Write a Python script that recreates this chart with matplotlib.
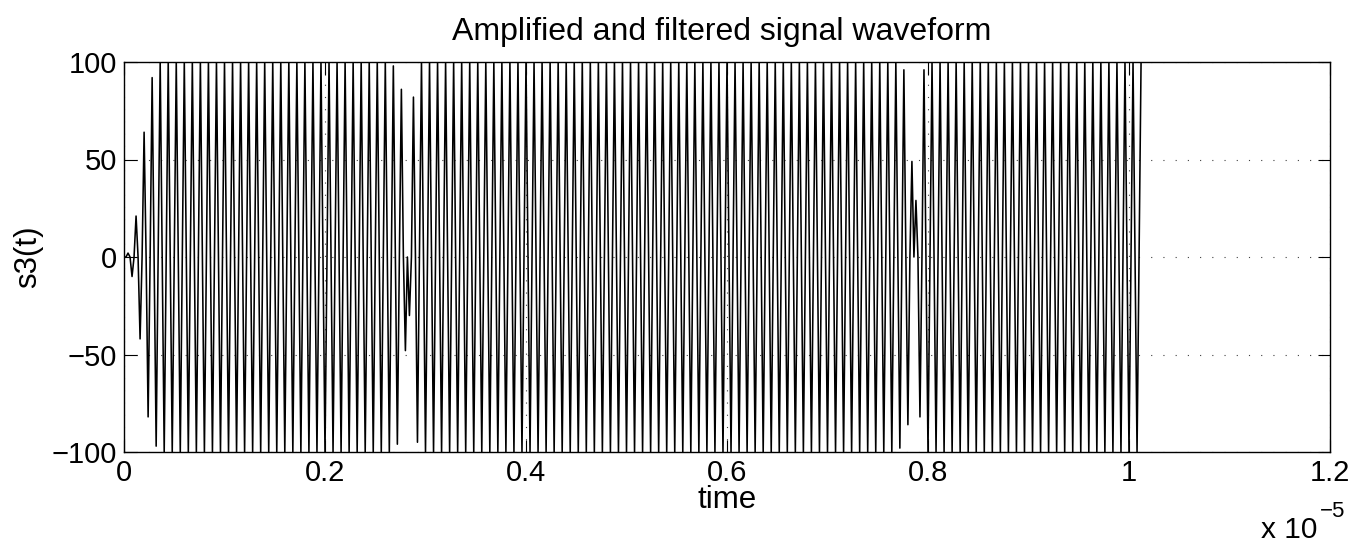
import numpy as np
import matplotlib
matplotlib.use("Agg")
import matplotlib.pyplot as plt
from matplotlib.ticker import FixedLocator, FixedFormatter

plt.rcParams['font.family'] = ['Liberation Sans', 'DejaVu Sans']

# ---- data ----
sample_period = 2.0e-8          # s, one sample every 2e-8 s
# s3(t) samples: carrier peaks alternate with zero crossings
s3 = [
    0, 0, 2, 0, -10, 0, 21, 0, -42, 0, 64, 0, -82, 0, 92, 0,                        # peaks 0-7
    -97, 0, 100, 0, -100, 0, 100, 0, -100, 0, 100, 0, -100, 0, 100, 0,              # 8-15
    -100, 0, 100, 0, -100, 0, 100, 0, -100, 0, 100, 0, -100, 0, 100, 0,             # 16-23
    -100, 0, 100, 0, -100, 0, 100, 0, -100, 0, 100, 0, -100, 0, 100, 0,             # 24-31
    -100, 0, 100, 0, -100, 0, 100, 0, -100, 0, 100, 0, -100, 0, 100, 0,             # 32-39
    -100, 0, 100, 0, -100, 0, 100, 0, -100, 0, 100, 0, -100, 0, 100, 0,             # 40-47
    -100, 0, 100, 0, -100, 0, 100, 0, -100, 0, 100, 0, -100, 0, 100, 0,             # 48-55
    -100, 0, 100, 0, -100, 0, 100, 0, -100, 0, 100, 0, -100, 0, 100, 0,             # 56-63
    -100, 0, 100, 0, -100, 0, 98, 0, -96, 0, 86, 0, -48, 0, -30, 0,                 # 64-71
    82, 0, -95, 0, 100, 0, -100, 0, 100, 0, -100, 0, 100, 0, -100, 0,               # 72-79
    100, 0, -100, 0, 100, 0, -100, 0, 100, 0, -100, 0, 100, 0, -100, 0,             # 80-87
    100, 0, -100, 0, 100, 0, -100, 0, 100, 0, -100, 0, 100, 0, -100, 0,             # 88-95
    100, 0, -100, 0, 100, 0, -100, 0, 100, 0, -100, 0, 100, 0, -100, 0,             # 96-103
    100, 0, -100, 0, 100, 0, -100, 0, 100, 0, -100, 0, 100, 0, -100, 0,             # 104-111
    100, 0, -100, 0, 100, 0, -100, 0, 100, 0, -100, 0, 100, 0, -100, 0,             # 112-119
    100, 0, -100, 0, 100, 0, -100, 0, 100, 0, -100, 0, 100, 0, -100, 0,             # 120-127
    100, 0, -100, 0, 100, 0, -100, 0, 100, 0, -100, 0, 100, 0, -100, 0,             # 128-135
    100, 0, -100, 0, 100, 0, -100, 0, 100, 0, -100, 0, 100, 0, -100, 0,             # 136-143
    100, 0, -100, 0, 100, 0, -100, 0, 100, 0, -100, 0, 100, 0, -100, 0,             # 144-151
    100, 0, -100, 0, 100, 0, -100, 0, 100, 0, -100, 0, 100, 0, -100, 0,             # 152-159
    100, 0, -100, 0, 100, 0, -100, 0, 100, 0, -100, 0, 100, 0, -100, 0,             # 160-167
    100, 0, -100, 0, 100, 0, -100, 0, 100, 0, -100, 0, 100, 0, -100, 0,             # 168-175
    100, 0, -100, 0, 100, 0, -100, 0, 100, 0, -100, 0, 100, 0, -100, 0,             # 176-183
    100, 0, -100, 0, 100, 0, -100, 0, 100, 0, -100, 0, 100, 0, -100, 0,             # 184-191
    100, 0, -98, 0, 96, 0, -86, 0, 49, 0, 29, 0, -82, 0, 96, 0,                     # 192-199
    -100, 0, 100, 0, -100, 0, 100, 0, -100, 0, 100, 0, -100, 0, 100, 0,             # 200-207
    -100, 0, 100, 0, -100, 0, 100, 0, -100, 0, 100, 0, -100, 0, 100, 0,             # 208-215
    -100, 0, 100, 0, -100, 0, 100, 0, -100, 0, 100, 0, -100, 0, 100, 0,             # 216-223
    -100, 0, 100, 0, -100, 0, 100, 0, -100, 0, 100, 0, -100, 0, 100, 0,             # 224-231
    -100, 0, 100, 0, -100, 0, 100, 0, -100, 0, 100, 0, -100, 0, 100, 0,             # 232-239
    -100, 0, 100, 0, -100, 0, 100, 0, -100, 0, 100, 0, -100, 0, 100, 0,             # 240-247
    -100, 0, 100, 0, -100, 0, 100, 0, -100, 0, 100,                                 # 248-253
]

xtick_values = [0, 0.2, 0.4, 0.6, 0.8, 1.0, 1.2]      # in units of 1e-5 s
xtick_labels = ['0', '0.2', '0.4', '0.6', '0.8', '1', '1.2']
x_scale = 1e-5
ytick_values = [-100, -50, 0, 50, 100]
ytick_labels = ['\u2212100', '\u221250', '0', '50', '100']

# ---- figure ----
W, H = 1356, 550
fig = plt.figure(figsize=(W / 100, H / 100), dpi=100)
L, R, T, B = 124, 1330, 62, 452
ax = fig.add_axes([L / W, 1 - B / H, (R - L) / W, (B - T) / H])

t = np.arange(len(s3)) * sample_period
ax.plot(t, s3, color='k', linewidth=1.15, zorder=3)

ax.set_xlim(0, 1.2e-5)
ax.set_ylim(-100, 100)
ax.xaxis.set_major_locator(FixedLocator([v * x_scale for v in xtick_values]))
ax.xaxis.set_major_formatter(FixedFormatter(xtick_labels))
ax.yaxis.set_major_locator(FixedLocator(ytick_values))
ax.yaxis.set_major_formatter(FixedFormatter(ytick_labels))

ax.tick_params(direction='in', length=9, width=0.8, top=True, right=True,
               labelsize=21, colors='k')
ax.tick_params(axis='x', pad=5)
ax.tick_params(axis='y', pad=5)
for sp in ax.spines.values():
    sp.set_linewidth(1.0)
    sp.set_color('k')

ax.grid(True, color='0.25', linestyle=(0, (1, 10)), linewidth=0.8, zorder=1)
ax.set_axisbelow(True)

fig.text(722 / W, 1 - 40 / H, 'Amplified and filtered signal waveform',
         fontsize=23, ha='center', va='baseline')
fig.text(727 / W, 1 - 508 / H, 'time', fontsize=22.5, ha='center', va='baseline')
fig.text(28 / W, 1 - 257 / H, 's3(t)', fontsize=22.5, ha='center', va='center',
         rotation=90)
fig.text(1261 / W, 1 - 538 / H, 'x 10', fontsize=21.5, ha='left', va='baseline')
fig.text(1320 / W, 1 - 517 / H, '\u22125', fontsize=16, ha='left', va='baseline')

fig.savefig('out.png', dpi=100, facecolor='white')
